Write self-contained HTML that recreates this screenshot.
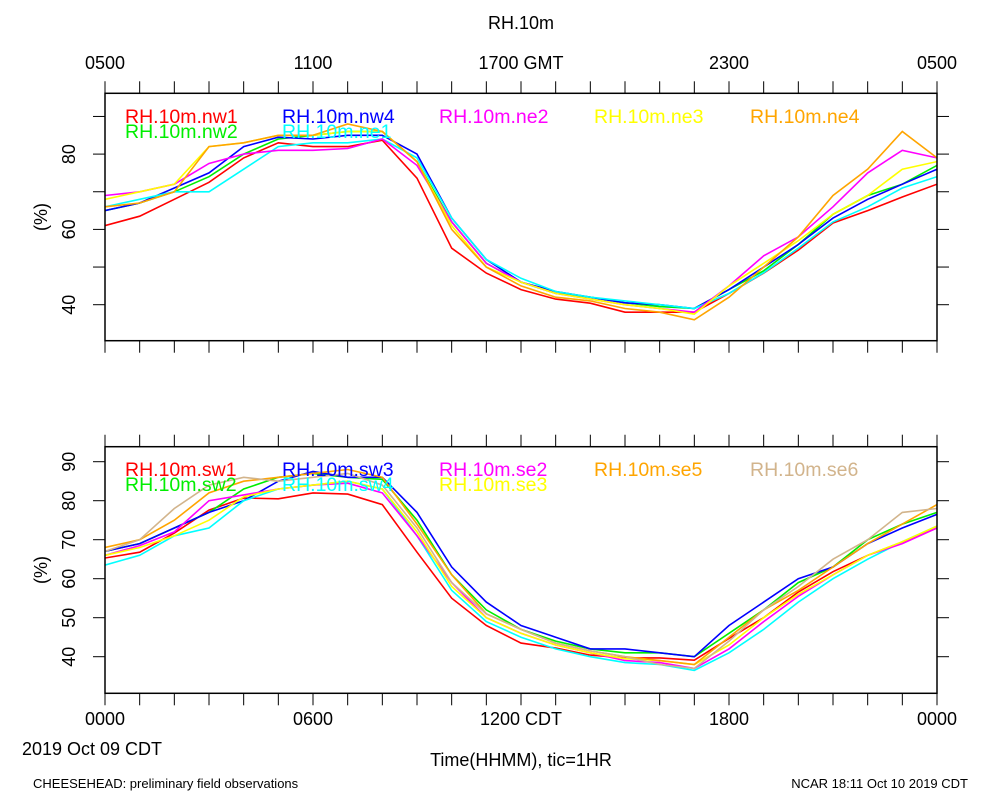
<!DOCTYPE html>
<html><head><meta charset="utf-8"><style>
body{margin:0;background:#fff;}
svg{display:block;font-family:"Liberation Sans",sans-serif;}
</style></head><body>
<svg id="c" width="1000" height="800"></svg>
<script>
const hours=[0,1,2,3,4,5,6,7,8,9,10,11,12,13,14,15,16,17,18,19,20,21,22,23,24];
const topNames=["RH.10m.nw1","RH.10m.nw2","RH.10m.nw4","RH.10m.ne1","RH.10m.ne2","RH.10m.ne3","RH.10m.ne4"];
const nw1=[61,63.5,68,72.5,79,83,82,82,83.7,73.6,55,48.4,44,41.5,40.4,38,38,38,43,48.4,54.5,61.7,65,68.6,72];
const nw2=[65,67,70,74,80,84,85,86,86,78,62,51,46,43,42,40.5,39.5,39,44,49,56,64,69,72,77];
const nw4=[65,67,71,75,82,84.5,84,85,85,80,63,52,46,43.5,42,40.5,40,39,44,50,56,63,68,72,76];
const ne1=[66,68,70,70,76,82,83,83,84,79,63,52,47,43.5,42,41,40,39,43,48.5,55,62,66,71,74];
const ne2=[69,70,72,77.5,80,81,81,81.5,84,77,62,51,46,43,41.5,40,39,38,45,53,58,66,75,81,79];
const ne3=[68,70,72,82,83,85,85,86,86,78,61,50,46,43,41.5,40,39,37.5,45,51,57,64,69,76,78];
const ne4=[66,67,70,82,83,85,85,88,86,78,60,50,45,42,41,39,38,36,42,50,58,69,76,86,79];
const botNames=["RH.10m.sw1","RH.10m.sw2","RH.10m.sw3","RH.10m.sw4","RH.10m.se2","RH.10m.se3","RH.10m.se5","RH.10m.se6"];
const sw1=[65.3,66.8,71.7,77.6,80.7,80.5,82,81.7,79,66.8,55,48,43.5,42.2,40.4,39.7,39.7,39.1,44.7,50,56.6,61.8,66,69.4,73];
const sw2=[67,69,73,77,83,86,87,86,85.5,75,61,52,47,44,42,41,41,40,46,52,59,63,70,74,77];
const sw3=[67,69,73,77,80,85,87.5,86,86,77,63,54,48,45,42,42,41,40,48,54,60,63,69,73,76.5];
const sw4=[63.5,66,71,73,80,83,84,85,83,71,57,49,45,42,40,38.5,38,36.5,41,47,54,60,65,69.5,73.5];
const se2=[66,68.5,72,80,81.5,83,84,84.5,82,71,59,50,46,43,41,39,38.5,37,42,49,55.5,61,66,69,73];
const se3=[66,68,71,75,81,83,84,85,83,72,58,50,46,43,41,39.5,39,38,43,50,56,61,66,69.5,73.5];
const se5=[68,70,75,82,85,86,87,88,86,74,61,51,47,43.5,41.5,40,39,38,45,52,57,63,69,74,79];
const se6=[67,70,78,84,86,85,86,87,84,73,59,51,47,43.5,41.5,40,38,37,44,52,58,65,70,77,78];
const topTickLabels=["0500","1100","1700 GMT","2300","0500"];
const botTickLabels=["0000","0600","1200 CDT","1800","0000"];
const topYTicks=[40,60,80];
const botYTicks=[40,50,60,70,80,90];

const NS="http://www.w3.org/2000/svg";
const svg=document.getElementById('c');
function mk(tag,attrs,parent){const e=document.createElementNS(NS,tag);for(const k in attrs)e.setAttribute(k,attrs[k]);(parent||svg).appendChild(e);return e;}
function txt(s,attrs,parent){const e=mk('text',attrs,parent);e.textContent=s;return e;}
const X0=105,X1=937;
const xs=h=>X0+h*(X1-X0)/24;
const panels=[
 {top:93.3,bot:340.7,v0:40,y0:304.7,ppu:3.765,minor:[30,40,50,60,70,80,90],labels:topYTicks,
  series:[nw1,nw2,nw4,ne1,ne2,ne3,ne4],names:topNames,
  colors:["#ff0000","#00ee00","#0000ff","#00ffff","#ff00ff","#ffff00","#ffa500"],
  leg:[[125,0],[125,1],[282,0],[282,1],[439,0],[594,0],[750,0]],legY:116,id:'top'},
 {top:446.7,bot:693.3,v0:40,y0:656.7,ppu:3.9,minor:[40,50,60,70,80,90],labels:botYTicks,
  series:[sw1,sw2,sw3,sw4,se2,se3,se5,se6],names:botNames,
  colors:["#ff0000","#00ee00","#0000ff","#00ffff","#ff00ff","#ffff00","#ffa500","#d2b48c"],
  leg:[[125,0],[125,1],[282,0],[282,1],[439,0],[439,1],[594,0],[750,0]],legY:469,id:'bottom'}
];
panels.forEach(p=>{
  const g=mk('g',{});
  
  
  const ys=v=>p.y0-(v-p.v0)*p.ppu;
  for(let h=0;h<=24;h++){
    const x=xs(h);
    const t1=mk('line',{x1:x,x2:x,y1:p.top-12,y2:p.top,stroke:'#000','stroke-width':1},g);
    
    
    const t2=mk('line',{x1:x,x2:x,y1:p.bot,y2:p.bot+12,stroke:'#000','stroke-width':1},g);
    
    
  }
  p.minor.forEach(v=>{
    const y=ys(v); if(y<p.top||y>p.bot)return;
    const a=mk('line',{x1:X0-12,x2:X0,y1:y,y2:y,stroke:'#000'},g);
    
    
    const b=mk('line',{x1:X1,x2:X1+12,y1:y,y2:y,stroke:'#000'},g);
    
    
  });
  p.labels.forEach(v=>{
    const y=ys(v);
    const t=txt(String(v),{x:0,y:0,'font-size':18,'text-anchor':'middle',transform:`translate(75,${y}) rotate(-90)`},g);
    
    
  });
  const yl=txt('(%)',{x:0,y:0,'font-size':18,'text-anchor':'middle',transform:`translate(47,${(p.top+p.bot)/2}) rotate(-90)`},g);
  
  
  const cl=p.id+'clip';
  const cp=mk('clipPath',{id:cl},g);
  mk('rect',{x:X0,y:p.top,width:X1-X0,height:p.bot-p.top},cp);
  p.series.forEach((s,i)=>{
    const d=s.map((v,k)=>(k?'L':'M')+xs(hours[k]).toFixed(1)+' '+ys(v).toFixed(1)).join(' ');
    const pa=mk('path',{d:d,fill:'none',stroke:p.colors[i],'stroke-width':1.6,'clip-path':`url(#${cl})`},g);
    
    
  });
  p.names.forEach((n,i)=>{
    const [lx,row]=p.leg[i];
    const t=txt(n,{x:lx,y:p.legY+7+row*15,'font-size':19.5,fill:p.colors[i]},g);
    
    
  });
  const fr=mk('rect',{x:X0,y:p.top,width:X1-X0,height:p.bot-p.top,fill:'none',stroke:'#000','stroke-width':1.5},g);
  
  
});
[0,6,12,18,24].forEach((h,i)=>{
  const a=txt(topTickLabels[i],{x:xs(h),y:69,'font-size':18,'text-anchor':'middle'});
  
  
  const b=txt(botTickLabels[i],{x:xs(h),y:725,'font-size':18,'text-anchor':'middle'});
  
  
});
const items=[["RH.10m",521,29,18,'middle','chart-title'],["2019 Oct 09 CDT",92,755,18,'middle','date-label'],
["Time(HHMM), tic=1HR",521,766,18,'middle','x-axis-title'],["CHEESEHEAD: preliminary field observations",33,788,13,'start','footer-left'],
["NCAR 18:11 Oct 10 2019 CDT",968,788,13,'end','footer-right']];
items.forEach(it=>{
  const t=txt(it[0],{x:it[1],y:it[2],'font-size':it[3],'text-anchor':it[4]});
  
  
});
</script>
</body></html>
